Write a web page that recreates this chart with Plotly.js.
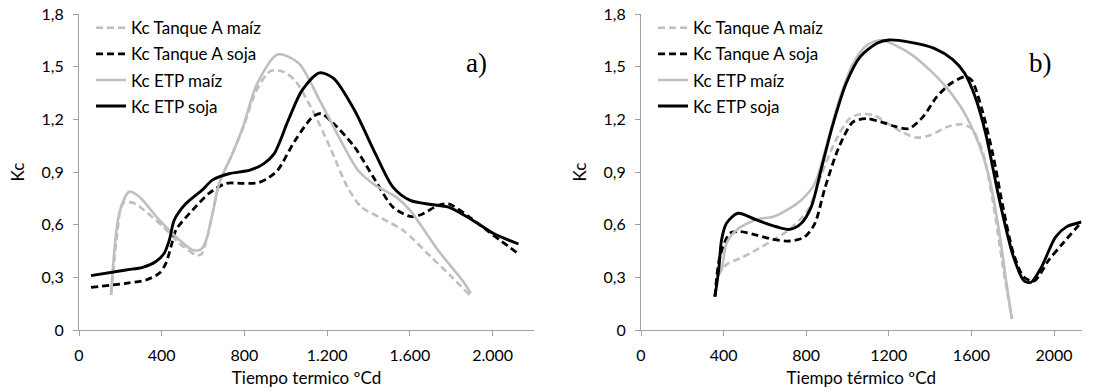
<!DOCTYPE html>
<html>
<head>
<meta charset="utf-8">
<script src="https://cdn.plot.ly/plotly-3.0.1.min.js"></script>
<style>html,body{margin:0;padding:0;background:#fff;}#chart{width:1093px;height:391px;}</style>
</head>
<body>
<div id="chart"></div>
<script>
// ---------- Panel a) ----------
const seriesNames = ["Kc Tanque A maíz", "Kc Tanque A soja", "Kc ETP maíz", "Kc ETP soja"];

const aTanqueMaizX = [155, 185, 211, 260, 405, 485, 566, 590, 614, 646, 678, 740, 793, 860, 927, 990, 1045, 1130, 1214, 1298, 1366, 1467, 1568, 1703, 1804, 1888];
const aTanqueMaizY = [0.20, 0.55, 0.72, 0.725, 0.59, 0.494, 0.427, 0.43, 0.50, 0.665, 0.835, 1.00, 1.15, 1.37, 1.476, 1.47, 1.42, 1.25, 1.04, 0.814, 0.70, 0.634, 0.567, 0.415, 0.30, 0.20];

const aTanqueSojaX = [58, 227, 324, 388, 420, 445, 469, 550, 630, 711, 791, 870, 920, 961, 1045, 1130, 1170, 1231, 1332, 1433, 1518, 1602, 1650, 1737, 1787, 1888, 1973, 2125];
const aTanqueSojaY = [0.243, 0.266, 0.285, 0.323, 0.38, 0.475, 0.57, 0.684, 0.78, 0.835, 0.835, 0.84, 0.87, 0.91, 1.08, 1.214, 1.233, 1.176, 1.043, 0.852, 0.70, 0.647, 0.655, 0.71, 0.719, 0.643, 0.567, 0.434];

const aEtpMaizX = [155, 195, 243, 290, 388, 469, 550, 590, 614, 646, 678, 740, 793, 860, 961, 1062, 1163, 1265, 1349, 1433, 1534, 1602, 1737, 1855, 1894];
const aEtpMaizY = [0.20, 0.665, 0.788, 0.76, 0.627, 0.53, 0.456, 0.46, 0.51, 0.665, 0.835, 1.00, 1.157, 1.40, 1.57, 1.52, 1.31, 1.08, 0.91, 0.824, 0.757, 0.68, 0.453, 0.28, 0.21];

const aEtpSojaX = [58, 227, 308, 372, 412, 437, 461, 517, 598, 646, 725, 826, 894, 944, 1012, 1079, 1163, 1231, 1332, 1433, 1518, 1602, 1703, 1787, 1905, 2007, 2125];
const aEtpSojaY = [0.31, 0.342, 0.357, 0.39, 0.437, 0.513, 0.627, 0.72, 0.80, 0.855, 0.89, 0.91, 0.948, 1.005, 1.195, 1.366, 1.465, 1.433, 1.252, 1.005, 0.814, 0.738, 0.715, 0.70, 0.624, 0.548, 0.49];

// ---------- Panel b) ----------
const bTanqueMaizX = [368, 419, 479, 559, 640, 704, 807, 875, 943, 1010, 1061, 1128, 1196, 1264, 1331, 1399, 1483, 1551, 1601, 1652, 1703, 1753, 1796];
const bTanqueMaizY = [0.31, 0.377, 0.408, 0.456, 0.513, 0.56, 0.681, 0.89, 1.08, 1.204, 1.229, 1.223, 1.176, 1.128, 1.096, 1.109, 1.157, 1.172, 1.147, 1.024, 0.738, 0.358, 0.063];

const bTanqueSojaX = [358, 382, 430, 479, 559, 640, 720, 791, 841, 892, 959, 1027, 1095, 1162, 1230, 1297, 1365, 1432, 1500, 1568, 1601, 1652, 1703, 1753, 1804, 1855, 1905, 1973, 2040, 2133];
const bTanqueSojaY = [0.19, 0.418, 0.55, 0.56, 0.541, 0.516, 0.507, 0.529, 0.605, 0.814, 1.043, 1.185, 1.204, 1.185, 1.16, 1.147, 1.214, 1.328, 1.404, 1.442, 1.423, 1.252, 1.005, 0.70, 0.434, 0.30, 0.28, 0.396, 0.49, 0.615];

const bEtpMaizX = [368, 390, 414, 463, 559, 640, 720, 774, 841, 892, 959, 1027, 1095, 1162, 1230, 1314, 1399, 1483, 1568, 1635, 1686, 1736, 1770, 1796];
const bEtpMaizY = [0.30, 0.342, 0.494, 0.57, 0.63, 0.645, 0.693, 0.738, 0.833, 1.024, 1.309, 1.518, 1.623, 1.652, 1.623, 1.566, 1.48, 1.376, 1.233, 1.062, 0.871, 0.548, 0.263, 0.063];

const bEtpSojaX = [358, 377, 390, 414, 470, 559, 656, 720, 774, 824, 875, 926, 993, 1061, 1145, 1200, 1300, 1420, 1510, 1568, 1618, 1669, 1736, 1804, 1855, 1889, 1939, 2007, 2058, 2133];
const bEtpSojaY = [0.19, 0.35, 0.513, 0.608, 0.665, 0.627, 0.588, 0.573, 0.605, 0.70, 0.928, 1.157, 1.404, 1.556, 1.635, 1.652, 1.64, 1.604, 1.54, 1.461, 1.328, 1.119, 0.738, 0.415, 0.28, 0.272, 0.358, 0.529, 0.586, 0.615];

const xTickVals = [0, 400, 800, 1200, 1600, 2000];
const yTickVals = [0, 0.3, 0.6, 0.9, 1.2, 1.5, 1.8];
const yTickText = ["0", "0,3", "0,6", "0,9", "1,2", "1,5", "1,8"];
const xTickTextA = ["0", "400", "800", "1.200", "1.600", "2.000"];
const xTickTextB = ["0", "400", "800", "1200", "1600", "2000"];

const GRAY = "#bfbfbf", BLACK = "#000000";
const DASH = "7px,4px";
const FONT = "Lato, 'Open Sans', sans-serif";

const styles = [
  {color: GRAY, dash: DASH, width: 2.6},
  {color: BLACK, dash: DASH, width: 2.8},
  {color: GRAY, dash: "solid", width: 2.6},
  {color: BLACK, dash: "solid", width: 2.9}
];

function mk(x, y, i, panel) {
  return {
    x: x, y: y, type: "scatter", mode: "lines",
    name: seriesNames[i],
    line: {color: styles[i].color, dash: styles[i].dash, width: styles[i].width, shape: "spline", smoothing: 0.8},
    xaxis: panel === 1 ? "x" : "x2",
    yaxis: panel === 1 ? "y" : "y2",
    legend: panel === 1 ? "legend" : "legend2",
    legendgroup: "p" + panel + "g" + i,
    hoverinfo: "skip"
  };
}

const traces = [
  mk(aTanqueMaizX, aTanqueMaizY, 0, 1),
  mk(aTanqueSojaX, aTanqueSojaY, 1, 1),
  mk(aEtpMaizX, aEtpMaizY, 2, 1),
  mk(aEtpSojaX, aEtpSojaY, 3, 1),
  mk(bTanqueMaizX, bTanqueMaizY, 0, 2),
  mk(bTanqueSojaX, bTanqueSojaY, 1, 2),
  mk(bEtpMaizX, bEtpMaizY, 2, 2),
  mk(bEtpSojaX, bEtpSojaY, 3, 2)
];

const W = 1093;
const axisCommon = {
  showgrid: false, zeroline: false, showline: true, linecolor: "#a0a0a0", linewidth: 1,
  ticks: "outside", ticklen: 5, tickcolor: "#a0a0a0", tickwidth: 1,
  tickfont: {family: FONT, size: 16, color: "#000"},
  ticklabelstandoff: 6, fixedrange: true
};
const titleFont = {family: FONT, size: 17, color: "#000"};

const legendCommon = {
  font: {family: FONT, size: 17, color: "#000"},
  bgcolor: "rgba(0,0,0,0)", borderwidth: 0,
  xanchor: "left", yanchor: "top",
  traceorder: "grouped", tracegroupgap: 1, itemwidth: 30
};

const layout = {
  width: W, height: 391,
  margin: {l: 0, r: 0, t: 14, b: 61},
  paper_bgcolor: "#fff", plot_bgcolor: "#fff",
  showlegend: true,
  xaxis: Object.assign({}, axisCommon, {
    domain: [79 / W, 534 / W], range: [0, 2200], anchor: "y",
    tickvals: xTickVals, ticktext: xTickTextA,
    title: {text: "Tiempo termico ºCd", font: titleFont, standoff: 8}
  }),
  yaxis: Object.assign({}, axisCommon, {
    domain: [0, 1], range: [0, 1.8], anchor: "x",
    tickvals: yTickVals, ticktext: yTickText,
    title: {text: "Kc", font: titleFont, standoff: 12}
  }),
  xaxis2: Object.assign({}, axisCommon, {
    domain: [641 / W, 1081.5 / W], range: [0, 2133], anchor: "y2",
    tickvals: xTickVals, ticktext: xTickTextB,
    title: {text: "Tiempo térmico ºCd", font: titleFont, standoff: 8}
  }),
  yaxis2: Object.assign({}, axisCommon, {
    domain: [0, 1], range: [0, 1.8], anchor: "x2",
    tickvals: yTickVals, ticktext: yTickText,
    title: {text: "Kc", font: titleFont, standoff: 12}
  }),
  legend: Object.assign({}, legendCommon, {x: 91 / W, y: 1.012}),
  legend2: Object.assign({}, legendCommon, {x: 653 / W, y: 1.012}),
  annotations: [
    {text: "a)", xref: "x", yref: "y", x: 1920, y: 1.52, xanchor: "center", yanchor: "middle", showarrow: false,
     font: {family: "'Liberation Serif', 'Times New Roman', serif", size: 27, color: "#000"}},
    {text: "b)", xref: "x2", yref: "y2", x: 1935, y: 1.52, xanchor: "center", yanchor: "middle", showarrow: false,
     font: {family: "'Liberation Serif', 'Times New Roman', serif", size: 27, color: "#000"}}
  ]
};

Plotly.newPlot("chart", traces, layout, {staticPlot: true, displayModeBar: false});
</script>
</body>
</html>
